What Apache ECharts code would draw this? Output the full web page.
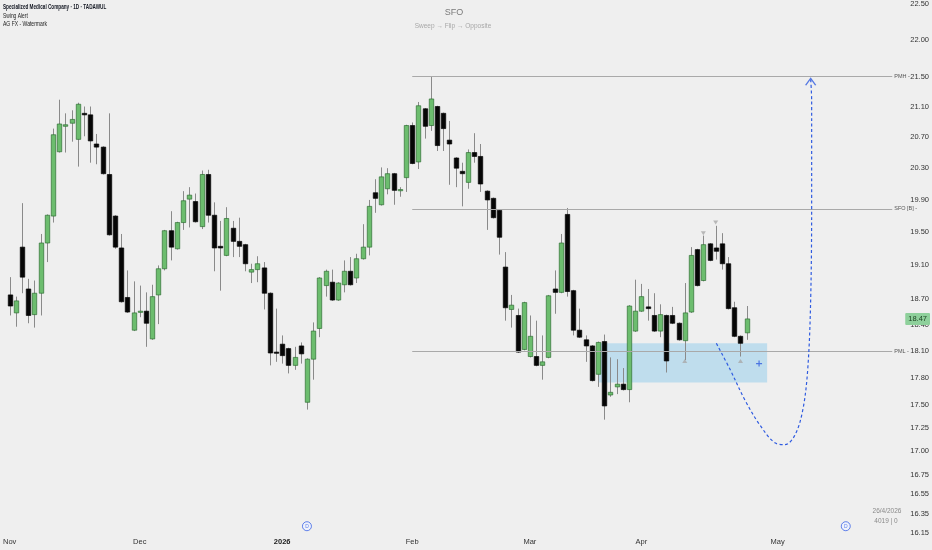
<!DOCTYPE html>
<html><head><meta charset="utf-8">
<script src="https://cdn.jsdelivr.net/npm/echarts@6/dist/echarts.min.js"></script>
<style>html,body{margin:0;padding:0;background:#efefef}#c{width:932px;height:550px}</style>
</head><body><div id="c"></div>
<script>
// ---- trading days per month (categories) ----
const monthDays = [
  ['2025-11', 'Nov',  [2,3,4,5,6,9,10,11,12,13,16,17,18,19,20,23,24,25,26,27,30]],
  ['2025-12', 'Dec',  [1,2,3,4,7,8,9,10,11,14,15,16,17,18,21,22,23,24,25,28,29,30,31]],
  ['2026-01', '2026', [1,4,5,6,7,8,11,12,13,14,15,18,19,20,21,22,25,26,27,28,29]],
  ['2026-02', 'Feb',  [1,2,3,4,5,8,9,10,11,12,15,16,17,18,19,23,24,25,26]],
  ['2026-03', 'Mar',  [1,2,3,4,5,8,9,10,11,12,15,16,17,25,26,29,30,31]],
  ['2026-04', 'Apr',  [1,2,5,6,7,8,9,12,13,14,15,16,19,20,21,22,23,26,27,28,29,30]],
  ['2026-05', 'May',  [3,4,5,6,7,10,11,12,13,14,17,18,19,20,21,24,25,26,27]]
];
// ---- daily candles [open, close, low, high] ----
const ohlc = [
[18.75,18.62,18.51,18.96],[18.54,18.68,18.38,18.73],[19.32,18.96,18.77,19.86],[18.82,18.51,18.42,18.94],
[18.52,18.77,18.37,18.92],[18.77,19.37,18.51,19.48],[19.37,19.71,19.14,19.72],[19.70,20.73,19.62,20.81],
[20.51,20.87,20.50,21.19],[20.84,20.86,20.50,21.01],[20.88,20.93,20.64,21.05],[20.67,21.13,20.32,21.15],
[21.01,20.99,20.71,21.10],[20.99,20.65,20.37,21.10],[20.61,20.57,20.35,20.74],[20.57,20.23,20.22,20.58],
[20.22,19.47,19.46,21.01],[19.70,19.32,19.30,19.71],[19.31,18.67,18.66,19.48],[18.72,18.55,18.54,19.04],
[18.34,18.54,18.33,18.91],[18.55,18.56,18.49,18.86],[18.56,18.42,18.15,18.78],[18.24,18.73,18.23,18.87],
[18.75,19.06,18.41,19.10],[19.06,19.52,19.04,19.53],[19.52,19.32,19.16,19.76],[19.30,19.62,19.29,19.63],
[19.62,19.89,19.53,20.01],[19.91,19.96,19.56,20.06],[19.88,19.63,19.62,19.98],[19.57,20.22,19.54,20.27],
[20.22,19.71,19.62,20.28],[19.71,19.31,19.03,19.87],[19.33,19.31,18.80,19.64],[19.22,19.67,19.21,19.81],
[19.55,19.39,19.20,19.64],[19.39,19.33,19.20,19.68],[19.35,19.12,19.03,19.36],[19.02,19.05,18.89,19.12],
[19.05,19.12,18.90,19.21],[19.07,18.77,18.58,19.14],[18.77,18.08,17.94,18.78],[18.09,18.08,17.98,18.59],
[18.18,18.05,17.96,18.28],[18.13,17.94,17.85,18.14],[17.94,18.03,17.89,18.15],[18.16,18.07,17.96,18.20],
[17.53,18.01,17.45,18.02],[18.01,18.33,17.78,18.43],[18.36,18.95,18.26,18.96],[18.86,19.03,18.73,19.05],
[18.90,18.69,18.68,19.05],[18.69,18.89,18.68,18.90],[18.87,19.03,18.78,19.16],[19.03,18.87,18.86,19.20],
[18.95,19.18,18.89,19.24],[19.18,19.32,19.17,19.60],[19.32,19.82,19.22,19.90],[19.99,19.92,19.74,20.16],
[19.84,20.19,19.83,20.31],[20.04,20.23,19.97,20.30],[20.23,20.02,19.84,20.24],[20.02,20.03,19.94,20.06],
[20.18,20.85,20.00,20.86],[20.85,20.36,20.35,20.89],[20.38,21.11,20.29,21.16],[21.07,20.84,20.68,21.08],
[20.85,21.20,20.78,21.50],[21.10,20.59,20.52,21.11],[21.01,20.81,20.52,21.02],[20.66,20.61,20.09,20.91],
[20.43,20.30,20.06,20.44],[20.26,20.23,19.82,20.37],[20.12,20.50,20.04,20.54],[20.50,20.45,20.37,20.75],
[20.45,20.10,20.00,20.61],[20.01,19.90,19.53,20.02],[19.92,19.68,19.67,19.93],[19.77,19.44,19.23,19.78],
[19.08,18.60,18.45,19.26],[18.58,18.63,18.37,18.75],[18.51,18.09,18.08,18.59],[18.12,18.66,18.11,18.67],
[18.04,18.27,18.03,18.51],[18.04,17.94,17.93,18.45],[17.94,17.98,17.78,18.28],[18.03,18.74,18.02,18.75],
[18.82,18.78,18.53,19.04],[18.78,19.37,18.77,19.48],[19.72,18.79,18.73,19.80],[18.80,18.34,18.28,18.81],
[18.34,18.26,18.25,18.59],[18.23,18.16,17.98,18.28],[18.16,17.77,17.76,18.17],[17.84,18.20,17.70,18.21],
[18.21,17.49,17.34,18.29],[17.61,17.64,17.59,18.03],[17.70,17.73,17.62,18.01],[17.73,17.67,17.66,17.91],
[17.67,18.62,17.53,18.63],[18.33,18.56,18.32,18.93],[18.56,18.73,18.55,18.88],[18.61,18.59,18.45,18.82],
[18.51,18.33,18.32,18.77],[18.33,18.52,18.26,18.64],[18.51,17.99,17.86,18.52],[18.51,18.42,18.41,18.61],
[18.42,18.23,18.22,18.43],[18.22,18.54,18.00,18.89],[18.55,19.22,18.54,19.32],[19.29,18.86,18.85,19.30],
[18.92,19.35,18.91,19.46],[19.36,19.16,19.15,19.37],[19.31,19.27,19.17,19.58],[19.36,19.12,19.05,19.49],
[19.12,18.59,18.58,19.20],[18.60,18.27,18.26,18.67],[18.27,18.19,18.04,18.28],[18.31,18.47,18.23,18.62]
];
// ---- price axis tick labels (log scale) ----
const yTicks = [22.5,22,21.5,21.1,20.7,20.3,19.9,19.5,19.1,18.7,18.4,18.1,17.8,17.5,17.25,17,16.75,16.55,16.35,16.15];
// ---- levels & annotations ----
const levels = [ {name:'PMH', price:21.50, from:65}, {name:'SFO [B]', price:19.79, from:65}, {name:'PML', price:18.10, from:65} ];
const lastPrice = 18.47;
const zone = { x0:95.1, x1:122.3, top:18.19, bottom:17.75 };
const swingHighs = [[112,19.49],[114,19.62]];
const swingLows  = [[109,17.99],[118,17.99]];
const plusMark   = [[121,17.96]];
const projection = [[114.1,18.19],[116.35,17.89],[118.75,17.55],[121.15,17.28],[123.56,17.09],[125.16,17.07],
                    [126.76,17.17],[128.04,17.44],[128.85,17.89],[129.33,18.69],[129.49,19.89],[129.49,21.17],[129.33,21.47]];
const arrowTip = [[129.33,21.47]];
const eventMarks = [[48,16.22],[135,16.22]];

// build categories
const categories = [], monthStart = {};
monthDays.forEach(([ym, lab, days]) => {
  days.forEach((d, k) => {
    if (k === 0) monthStart[categories.length] = lab;
    categories.push(ym + '-' + String(d).padStart(2,'0'));
  });
});
const N = categories.length;
const candleData = ohlc.map((r, i) => [i, r[0], r[1], r[2], r[3]]);

const FONT = "'Liberation Sans',Arial,sans-serif";
const chart = echarts.init(document.getElementById('c'), null, {renderer:'canvas'});

function renderCandle(params, api) {
  const i = api.value(0), o = api.value(1), c = api.value(2), l = api.value(3), h = api.value(4);
  const pO = api.coord([i, o]), pC = api.coord([i, c]), pL = api.coord([i, l]), pH = api.coord([i, h]);
  const bw = api.size([1, 0.1])[0] * 0.72;
  const up = c >= o;
  const top = Math.min(pO[1], pC[1]), bot = Math.max(pO[1], pC[1]);
  const x = Math.round(pO[0]) + 0.5;
  return {type:'group', children:[
    {type:'line', shape:{x1:x, y1:pH[1], x2:x, y2:pL[1]}, style:{stroke:'#8a8a8a', lineWidth:1}},
    {type:'rect', shape:{x:x - bw/2, y:top, width:bw, height:Math.max(bot - top, 1.2)},
     style:{fill: up ? '#6cbd6e' : '#060606', stroke: up ? '#2f6e33' : '#060606', lineWidth:0.7}}
  ]};
}

const levelLines = levels.map(lv => [
  {coord:[lv.from, lv.price], label:{formatter: lv.name + ' -'}},
  {coord:[N - 0.5, lv.price]}
]);

function txt(x, y, text, font, fill, align, sx) {
  return {type:'text', x:x, y:y, scaleX:sx || 1, originX:0, originY:0,
    style:{text:text, fill:fill, font:font, align:align, verticalAlign:'middle', textAlign:align, textVerticalAlign:'middle'}};
}

chart.setOption({
  backgroundColor:'#efefef',
  animation:false,
  grid:{left:1, top:0, width:892.3, height:550, containLabel:false},
  xAxis:[
    {type:'category', data:categories, boundaryGap:true,
     axisLine:{show:false}, axisTick:{show:false}, splitLine:{show:false},
     axisLabel:{inside:true, margin:4, interval:(idx) => monthStart[idx] !== undefined,
       formatter:(v, idx) => { const m = monthStart[idx]; return m === '2026' ? '{b|2026}' : (m || ''); },
       color:'#333', fontSize:7.5, fontFamily:FONT,
       rich:{b:{fontWeight:'bold', fontSize:7.5, color:'#222', fontFamily:FONT}}}},
    {type:'value', min:-0.5, max:N - 0.5, show:false}
  ],
  yAxis:{type:'log', logBase:10, min:15.98, max:22.54, position:'right', scale:true,
    axisLine:{show:false}, axisTick:{show:false}, splitLine:{show:false},
    axisLabel:{customValues:yTicks, formatter:(v) => Number(v).toFixed(2), margin:18, color:'#333', fontSize:7.5, fontFamily:FONT}},
  graphic:[
    txt(3, 7, 'Specialized Medical Company · 1D · TADAWUL', 'bold 7.5px ' + FONT, '#131722', 'left', 0.62),
    txt(3, 16, 'Swing Alert', '7px ' + FONT, '#222', 'left', 0.7),
    txt(3, 24, 'AG FX - Watermark', '7px ' + FONT, '#222', 'left', 0.72),
    txt(454, 13, 'SFO', '9px ' + FONT, '#7a7a7a', 'center'),
    txt(453, 26, 'Sweep → Flip → Opposite', '6.5px ' + FONT, '#a8a8a8', 'center'),
    txt(887, 511, '26/4/2026', '6.5px ' + FONT, '#8a8a8a', 'center'),
    txt(886, 521, '4019 | 0', '6.5px ' + FONT, '#8a8a8a', 'center')
  ],
  series:[
    {type:'line', xAxisIndex:1, data:[], z:1, silent:true,
     markArea:{silent:true, itemStyle:{color:'rgba(120,196,236,0.40)'},
       data:[[{coord:[zone.x0, zone.top]}, {coord:[zone.x1, zone.bottom]}]]}},
    {type:'custom', name:'SFO', xAxisIndex:0, renderItem:renderCandle, data:candleData,
     encode:{x:0, y:[1,2,3,4]}, z:3, clip:false},
    {type:'line', xAxisIndex:1, data:[], z:2, silent:true,
     markLine:{silent:true, symbol:['none','none'], lineStyle:{color:'#a9a9a9', width:1.2, type:'solid'},
       label:{position:'end', distance:2, color:'#555', fontSize:5.5, fontFamily:FONT},
       data:levelLines}},
    {type:'line', xAxisIndex:1, data:[], z:6, silent:true,
     markLine:{silent:true, symbol:['none','none'], lineStyle:{color:'rgba(0,0,0,0)', width:0},
       label:{position:'end', distance:13, formatter:String(lastPrice.toFixed(2)), color:'#1c3f21', fontSize:7.5,
              fontFamily:FONT, backgroundColor:'#8ed09b', padding:[2,3,2,3], borderRadius:1},
       data:[[{coord:[119, lastPrice]}, {coord:[N - 0.5, lastPrice]}]]}},
    {type:'line', xAxisIndex:1, data:projection, smooth:0.35, symbol:'none', z:5,
     lineStyle:{color:'#2f5be0', width:1.2, type:[3,2.5]}},
    {type:'scatter', xAxisIndex:1, data:arrowTip, z:5, clip:false,
     symbol:'path://M0,8 L5,0 L10,8', symbolSize:[10,7], symbolOffset:[0,3],
     itemStyle:{color:'rgba(0,0,0,0)', borderColor:'#2f5be0', borderWidth:1.2}},
    {type:'scatter', xAxisIndex:1, data:swingHighs, z:4, symbol:'triangle', symbolRotate:180, symbolSize:[5,4],
     itemStyle:{color:'#a9a9a9'}},
    {type:'scatter', xAxisIndex:1, data:swingLows, z:4, symbol:'triangle', symbolSize:[5,4],
     itemStyle:{color:'#a9a9a9'}},
    {type:'scatter', xAxisIndex:1, data:plusMark, z:4,
     symbol:'path://M4,0 H6 V4 H10 V6 H6 V10 H4 V6 H0 V4 H4 Z', symbolSize:6, itemStyle:{color:'#2f5be0'}},
    {type:'scatter', xAxisIndex:1, data:eventMarks, z:4, symbol:'circle', symbolSize:9,
     itemStyle:{color:'#eef2ff', borderColor:'#3b63e6', borderWidth:1},
     label:{show:true, formatter:'D', position:'inside', fontSize:5, color:'#3b63e6', fontFamily:FONT}}
  ]
});
</script></body></html>
